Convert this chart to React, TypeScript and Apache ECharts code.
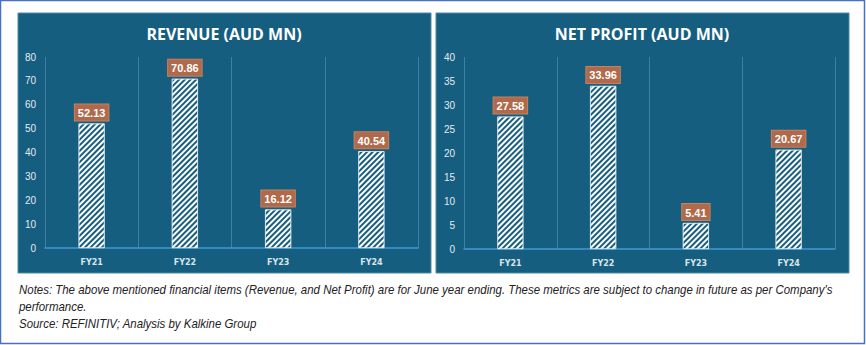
import React, { useEffect, useRef } from "react";
import * as echarts from "echarts";

const categories = ["FY21", "FY22", "FY23", "FY24"];
const revenue = [52.13, 70.86, 16.12, 40.54];
const netProfit = [27.58, 33.96, 5.41, 20.67];
const revenueTitle = "REVENUE (AUD MN)";
const profitTitle = "NET PROFIT (AUD MN)";
const notes = [
  "Notes: The above mentioned financial items (Revenue, and Net Profit) are for June year ending. These metrics are subject to change in future as per Company's",
  "performance.",
  "Source: REFINITIV; Analysis by Kalkine Group",
];

const PANEL = "#165E80";
const GRIDLINE = "#3F7FA3";
const LABEL_BG = "#B0694A";

function makeAxes(gridIndex: number, max: number, interval: number) {
  return {
    x: {
      type: "category",
      gridIndex,
      data: categories,
      axisLine: { show: true, lineStyle: { color: "#3E9BD6", width: 1.5 } },
      axisTick: { show: false },
      axisLabel: { color: "#D9E4EA", fontSize: 8, fontWeight: "bold", margin: 10, fontFamily: "DejaVu Sans" },
      splitLine: { show: true, lineStyle: { color: GRIDLINE, width: 1 } },
    },
    y: {
      type: "value",
      gridIndex,
      min: 0,
      max,
      interval,
      axisLine: { show: false },
      axisTick: { show: false },
      splitLine: { show: false },
      axisLabel: { color: "#E3EAEE", fontSize: 10, margin: 9, fontFamily: "Liberation Sans" },
    },
  };
}

function makeSeries(idx: number, data: number[]) {
  return {
    type: "bar",
    xAxisIndex: idx,
    yAxisIndex: idx,
    data,
    barWidth: 26,
    itemStyle: {
      color: PANEL,
      borderColor: "#E8F0F4",
      borderWidth: 0.6,
      decal: {
        symbol: "rect",
        dashArrayX: [1, 0],
        dashArrayY: [2, 2],
        rotation: -Math.PI / 4,
        color: "#FFFFFF",
        symbolSize: 1,
      },
    },
    label: {
      show: true,
      position: "top",
      distance: 3,
      formatter: (p: any) => p.value.toFixed(2),
      color: "#FFFFFF",
      fontWeight: "bold",
      fontSize: 11,
      fontFamily: "Liberation Sans",
      backgroundColor: LABEL_BG,
      borderColor: "#C4825F",
      borderWidth: 1,
      padding: [3, 3, 2, 3],
    },
  };
}

export default function App() {
  const ref = useRef<HTMLDivElement>(null);
  useEffect(() => {
    document.body.style.margin = "0";
    const chart = echarts.init(ref.current!, null, { renderer: "svg" });
    const a1 = makeAxes(0, 80, 10);
    const a2 = makeAxes(1, 40, 5);
    chart.setOption({
      animation: false,
      backgroundColor: "#FFFFFF",
      grid: [
        { left: 45, top: 57, width: 373, height: 191 },
        { left: 464, top: 57, width: 371, height: 192 },
      ],
      xAxis: [a1.x, a2.x],
      yAxis: [a1.y, a2.y],
      series: [makeSeries(0, revenue), makeSeries(1, netProfit)],
      graphic: [
        {
          type: "rect",
          z: -10,
          silent: true,
          shape: { x: 0.5, y: 0.5, width: 864, height: 343 },
          style: { fill: "#FFFFFF", stroke: "#4472C4", lineWidth: 1.5 },
        },
        {
          type: "rect",
          z: -5,
          silent: true,
          shape: { x: 18, y: 13, width: 413, height: 260 },
          style: { fill: PANEL, stroke: "#4C88AA", lineWidth: 1 },
        },
        {
          type: "rect",
          z: -5,
          silent: true,
          shape: { x: 436, y: 13, width: 413, height: 260 },
          style: { fill: PANEL, stroke: "#4C88AA", lineWidth: 1 },
        },
        {
          type: "text",
          x: 224,
          y: 34,
          style: {
            text: revenueTitle,
            fill: "#FFFFFF",
            font: "bold 16px 'Open Sans'",
            align: "center",
            verticalAlign: "middle",
          },
        },
        {
          type: "text",
          x: 642,
          y: 34,
          style: {
            text: profitTitle,
            fill: "#FFFFFF",
            font: "bold 16px 'Open Sans'",
            align: "center",
            verticalAlign: "middle",
          },
        },
        ...notes.map((t, i) => ({
          type: "text",
          x: 19,
          y: 289 + i * 17,
          scaleX: 0.955,
          style: {
            text: t,
            fill: "#222222",
            font: "italic 12px 'Liberation Sans'",
            verticalAlign: "middle",
          },
        })),
      ],
    });
    return () => chart.dispose();
  }, []);
  return <div ref={ref} style={{ position: "fixed", left: 0, top: 0, width: 866, height: 345 }} />;
}
